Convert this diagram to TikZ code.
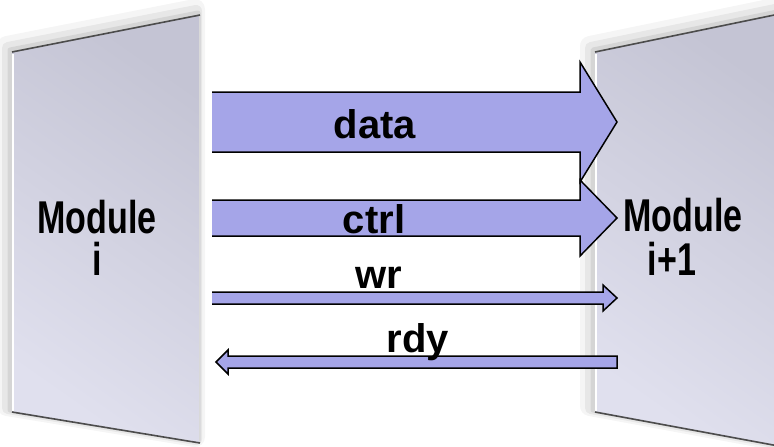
\documentclass[tikz,border=0pt]{standalone}
\usepackage{fontspec}
\setmainfont{Liberation Sans}
\usepackage{tikz}
\usetikzlibrary{calc}

\definecolor{busblue}{RGB}{165,165,232}
\definecolor{paneltop}{RGB}{196,196,212}
\definecolor{panelbot}{RGB}{224,224,238}

% [end] {from x}{head x}{tip x}{y}{half shaft}{half head}
\newcommand{\busarrow}[7][]{%
  \fill[busblue] (#2,#5-#6) -- (#3,#5-#6) -- (#3,#5-#7) -- (#4,#5) -- (#3,#5+#7) -- (#3,#5+#6) -- (#2,#5+#6) -- cycle;
  \draw[line width=1.5pt, line join=miter] (#2,#5-#6) -- (#3,#5-#6) -- (#3,#5-#7) -- (#4,#5) -- (#3,#5+#7) -- (#3,#5+#6) -- (#2,#5+#6) #1;
}

\begin{document}
\begin{tikzpicture}[x=1pt,y=-1pt]
\tikzstyle{halo}=[line join=round, black]
\tikzstyle{rim}=[line width=1.6pt, black!70]
\tikzstyle{lbl}=[font=\bfseries\fontsize{40}{44}\selectfont, inner sep=0pt, anchor=base]
\tikzstyle{modtext}=[font=\bfseries\fontsize{46}{50}\selectfont, inner sep=0pt, anchor=base]

\useasboundingbox (0,0) rectangle (774,447);

% soft shadows behind the panels
\draw[halo, line width=20pt, opacity=0.04, shift={(-5,-6)}] (12,52) -- (200,15) -- (200,443) -- (12,412) -- cycle;
\draw[halo, line width=12pt, opacity=0.06, shift={(-4,-4)}] (12,52) -- (200,15) -- (200,443) -- (12,412) -- cycle;
\draw[halo, line width=5pt, opacity=0.08, shift={(-2,-2)}] (12,52) -- (200,15) -- (200,443) -- (12,412) -- cycle;
\draw[halo, line width=20pt, opacity=0.04, shift={(-5,-6)}] (595,52) -- (784,13) -- (784,447) -- (595,412) -- cycle;
\draw[halo, line width=12pt, opacity=0.06, shift={(-4,-4)}] (595,52) -- (784,13) -- (784,447) -- (595,412) -- cycle;
\draw[halo, line width=5pt, opacity=0.08, shift={(-2,-2)}] (595,52) -- (784,13) -- (784,447) -- (595,412) -- cycle;

% module i
\shade[top color=paneltop, bottom color=panelbot, shading angle=-35] (12,52) -- (200,15) -- (200,443) -- (12,412) -- cycle;
\draw[white, line width=1.2pt] (13,54) -- (13,411);
\draw[black!15, line width=0.8pt] (199,16) -- (199,442);
\draw[rim] (12,52) -- (200,15);
\draw[rim] (12,412) -- (200,443);

% module i+1
\shade[top color=paneltop, bottom color=panelbot, shading angle=-35] (595,52) -- (784,13) -- (784,447) -- (595,412) -- cycle;
\draw[white, line width=1.2pt] (596,54) -- (596,411);
\draw[rim] (595,52) -- (784,13);
\draw[rim] (595,412) -- (784,447);

\node[modtext] (modi) at (97,233) {\scalebox{0.74}[1]{Module}};
\node[modtext] (modiidx) at (97,275) {\scalebox{0.74}[1]{i}};
\node[modtext] (modj) at (683,231) {\scalebox{0.74}[1]{Module}};
\node[modtext] (modjidx) at (672,275) {\scalebox{0.74}[1]{i+1}};

% buses
\busarrow{212}{580}{617}{122}{30}{60}
\busarrow{212}{580}{617}{218}{18}{38}
\busarrow{212}{603}{617}{298}{6}{13}
\busarrow[-- cycle]{617}{228}{216}{362}{6}{12}

\node[lbl] (data) at (375,138) {data};
\node[lbl] (ctrl) at (374,233) {ctrl};
\node[lbl] (wr) at (379,288) {wr};
\node[lbl] (rdy) at (418,352) {rdy};
\end{tikzpicture}
\end{document}
